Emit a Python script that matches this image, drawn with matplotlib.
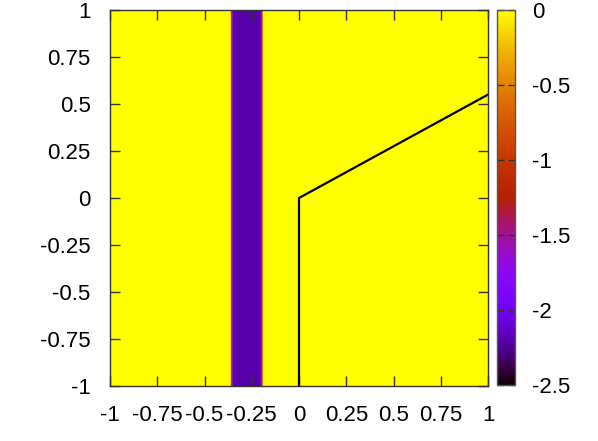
import numpy as np
import matplotlib
matplotlib.use('Agg')
import matplotlib.pyplot as plt

plt.rcParams['font.family'] = ['Liberation Sans', 'DejaVu Sans']

# profile of the map along x (constant along y)
band_x = [-1.0, -0.364, -0.348, -0.205, -0.189, 1.0]
band_val = [0.0, 0.0, -2.2, -2.2, 0.0, 0.0]

# black path
path_x = [0.0, 0.0, 1.0]
path_y = [-1.0, 0.0, 0.55]

ticks = [-1, -0.75, -0.5, -0.25, 0, 0.25, 0.5, 0.75, 1]
tick_labels = ['-1', '-0.75', '-0.5', '-0.25', '0', '0.25', '0.5', '0.75', '1']
cb_ticks = [0, -0.5, -1, -1.5, -2, -2.5]
cb_labels = ['0', '-0.5', '-1', '-1.5', '-2', '-2.5']

W, H = 598, 441
fig = plt.figure(figsize=(W / 100, H / 100), dpi=100)
ax = fig.add_axes([110 / W, 1 - 386 / H, (488 - 110) / W, (386 - 10) / H])
cax = fig.add_axes([497 / W, 1 - 385 / H, (515 - 497) / W, (385 - 10) / H])

# interpolate the value (not the colour) across the band edges, like pm3d
xs = np.linspace(-1, 1, 2001)
zs = np.interp(xs, band_x, band_val)
Z = np.tile(zs, (2, 1))
mesh = ax.imshow(Z, extent=[-1, 1, -1, 1], aspect='auto', origin='lower',
                 cmap='gnuplot', vmin=-2.5, vmax=0, interpolation='nearest')

ax.plot(path_x, path_y, color='black', lw=1.6)

ax.set_xlim(-1, 1)
ax.set_ylim(-1, 1)
ax.set_xticks(ticks)
ax.set_xticklabels(tick_labels)
ax.set_yticks(ticks)
ax.set_yticklabels(tick_labels)
ax.tick_params(direction='in', length=7, width=1, top=True, right=True,
               labelsize=16, color='#333333')
ax.tick_params(axis='x', pad=14)
ax.tick_params(axis='y', pad=14)
for s in ax.spines.values():
    s.set_linewidth(1)
    s.set_color('#333333')

cb = fig.colorbar(mesh, cax=cax)
cb.set_ticks(cb_ticks)
cb.set_ticklabels(cb_labels)
cax.tick_params(direction='in', length=5, width=1, left=True, right=True,
                labelsize=16, pad=12, color='#333333')
cb.outline.set_linewidth(1)
cb.outline.set_edgecolor('#555555')

fig.savefig('out.png', dpi=100)
